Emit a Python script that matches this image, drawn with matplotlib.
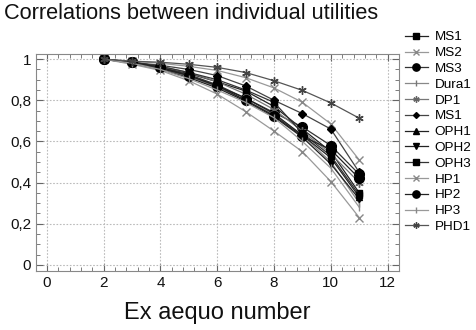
import matplotlib
matplotlib.use("Agg")
import matplotlib.pyplot as plt
from matplotlib.ticker import MultipleLocator, FixedLocator, FixedFormatter

plt.rcParams['font.family'] = ['Liberation Sans', 'DejaVu Sans']

x = [2, 3, 4, 5, 6, 7, 8, 9, 10, 11]
labels = ["MS1", "MS2", "MS3", "Dura1", "DP1", "MS1", "OPH1", "OPH2", "OPH3",
          "HP1", "HP2", "HP3", "PHD1"]
ms1 = [1, 0.985, 0.96, 0.93, 0.89, 0.845, 0.77, 0.66, 0.55, 0.35]
ms2 = [1, 0.99, 0.98, 0.965, 0.945, 0.91, 0.86, 0.79, 0.685, 0.51]
ms3 = [1, 0.985, 0.96, 0.925, 0.875, 0.81, 0.74, 0.67, 0.58, 0.44]
dura1 = [1, 0.98, 0.955, 0.915, 0.865, 0.80, 0.73, 0.63, 0.50, 0.30]
dp1 = [1, 0.985, 0.965, 0.935, 0.89, 0.83, 0.755, 0.65, 0.54, 0.40]
ms1b = [1, 0.985, 0.97, 0.95, 0.92, 0.87, 0.80, 0.735, 0.66, 0.45]
oph1 = [1, 0.98, 0.955, 0.92, 0.87, 0.81, 0.735, 0.63, 0.52, 0.33]
oph2 = [1, 0.98, 0.95, 0.91, 0.86, 0.795, 0.72, 0.62, 0.49, 0.32]
oph3 = [1, 0.985, 0.965, 0.935, 0.90, 0.85, 0.79, 0.64, 0.53, 0.34]
hp1 = [1, 0.975, 0.945, 0.895, 0.83, 0.745, 0.65, 0.55, 0.405, 0.23]
hp2 = [1, 0.985, 0.96, 0.92, 0.87, 0.80, 0.725, 0.625, 0.56, 0.42]
hp3 = [1, 0.98, 0.95, 0.905, 0.85, 0.79, 0.715, 0.60, 0.47, 0.28]
phd1 = [1, 0.99, 0.985, 0.975, 0.96, 0.935, 0.895, 0.848, 0.787, 0.713]
series = [ms1, ms2, ms3, dura1, dp1, ms1b, oph1, oph2, oph3, hp1, hp2, hp3, phd1]

xticks = [0, 2, 4, 6, 8, 10, 12]
yticks = [0, 0.2, 0.4, 0.6, 0.8, 1.0]
ytick_labels = ["0", "0,2", "0,4", "0,6", "0,8", "1"]

styles = [
    dict(marker='s', ms=5, color='#222222', mfc='black', mec='black'),
    dict(marker='x', ms=6, color='#999999', mfc='#888888', mec='#888888'),
    dict(marker='o', ms=7, color='#333333', mfc='black', mec='black'),
    dict(marker='|', ms=6, color='#888888', mfc='#777777', mec='#777777'),
    dict(marker=(6, 2, 0), ms=6, color='#777777', mfc='#666666', mec='#666666'),
    dict(marker='D', ms=4, color='#444444', mfc='black', mec='black'),
    dict(marker='^', ms=5, color='#222222', mfc='black', mec='black'),
    dict(marker='v', ms=5, color='#222222', mfc='black', mec='black'),
    dict(marker='s', ms=5, color='#333333', mfc='black', mec='black'),
    dict(marker='x', ms=6, color='#999999', mfc='#888888', mec='#888888'),
    dict(marker='o', ms=7, color='#222222', mfc='black', mec='black'),
    dict(marker='|', ms=6, color='#999999', mfc='#888888', mec='#888888'),
    dict(marker=(6, 2, 0), ms=6, color='#555555', mfc='#444444', mec='#444444'),
]

fig = plt.figure(figsize=(4.76, 3.30), dpi=100)
ax = fig.add_axes([36/476, 1-271/330, (399-36)/476, (271-54)/330])

for s, lab, st in zip(series, labels, styles):
    ax.plot(x, s, label=lab, lw=0.9, mew=1.0, **st)

ax.set_xlim(-0.38, 12.4)
ax.set_ylim(-0.03, 1.025)
ax.xaxis.set_major_locator(FixedLocator(xticks))
ax.yaxis.set_major_locator(FixedLocator(yticks))
ax.yaxis.set_major_formatter(FixedFormatter(ytick_labels))
ax.xaxis.set_minor_locator(MultipleLocator(0.4))
ax.yaxis.set_minor_locator(MultipleLocator(0.05))
ax.tick_params(which='both', direction='in', top=True, right=True, color='#666666',
               labelsize=11, labelcolor='#111111')
ax.tick_params(which='major', length=5)
ax.tick_params(which='minor', length=3)
ax.grid(True, which='major', ls=(0, (1.5, 1.5)), color='#bbbbbb', lw=0.8)
for sp in ax.spines.values():
    sp.set_color('#888888')

fig.text(4/476, 1-3/330, "Correlations between individual utilities", fontsize=15.7,
         ha='left', va='top', color='#111111')
fig.text(217/476, 1-324/330, "Ex aequo number", fontsize=17, ha='center', va='bottom',
         color='#111111')

fig.legend(loc='upper left', bbox_to_anchor=(405/476, 1-31/330), frameon=False,
           fontsize=9.7, handlelength=1.7, handletextpad=0.5, labelspacing=0.25,
           markerscale=0.75, borderaxespad=0, borderpad=0)

fig.savefig("out.png", dpi=100)
